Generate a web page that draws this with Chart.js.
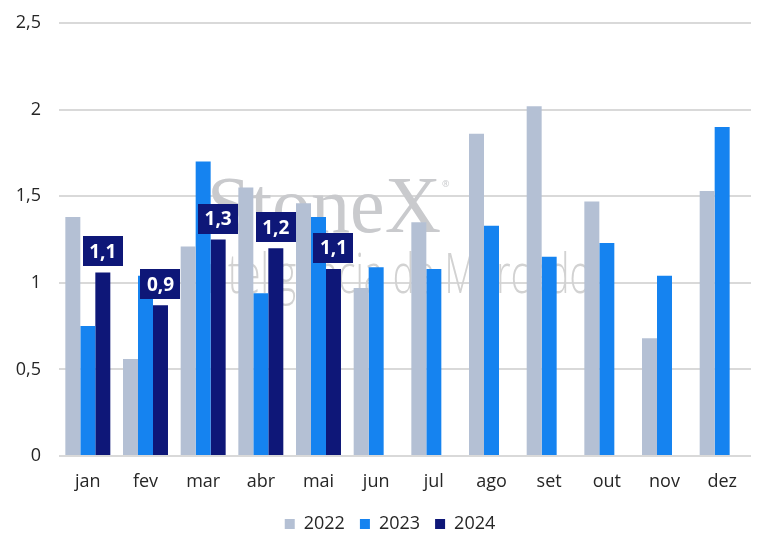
<!DOCTYPE html>
<html>
<head>
<meta charset="utf-8">
<script src="https://cdn.jsdelivr.net/npm/chart.js@4.4.1/dist/chart.umd.min.js"></script>
<style>
  html, body { margin: 0; padding: 0; background: #ffffff; }
  #wrap { width: 774px; height: 554px; position: relative; }
</style>
</head>
<body>
<div id="wrap"><canvas id="c"></canvas></div>
<script>
const months = ["jan", "fev", "mar", "abr", "mai", "jun", "jul", "ago", "set", "out", "nov", "dez"];
const series2022 = [1.38, 0.56, 1.21, 1.55, 1.46, 0.97, 1.35, 1.86, 2.02, 1.47, 0.68, 1.53];
const series2023 = [0.75, 1.04, 1.70, 0.94, 1.38, 1.09, 1.08, 1.33, 1.15, 1.23, 1.04, 1.90];
const series2024 = [1.06, 0.87, 1.25, 1.20, 1.08, null, null, null, null, null, null, null];
const seriesNames = ["2022", "2023", "2024"];
const yMin = 0, yMax = 2.5, yStep = 0.5;
const watermarkTitle = "StoneX";
const watermarkSub = "Inteligência de Mercado";

const FONT = "'Open Sans', 'Noto Sans', sans-serif";

const watermarkPlugin = {
  id: 'watermark',
  beforeDraw(chart) {
    // shift the legend box so it is centred on the whole canvas like the reference
    if (chart.legend) { chart.legend.left = 29; }
  },
  beforeDatasetsDraw(chart) {
    const ctx = chart.ctx;
    ctx.save();
    ctx.fillStyle = '#c9cacd';
    ctx.font = "80px 'Liberation Serif', 'DejaVu Serif', serif";
    ctx.textBaseline = 'alphabetic';
    ctx.textAlign = 'left';
    const w = ctx.measureText(watermarkTitle).width;
    ctx.save();
    ctx.translate(207, 232);
    ctx.scale(234 / w, 1);
    ctx.fillText(watermarkTitle, 0, 0);
    ctx.restore();
    ctx.font = "9px " + FONT;
    ctx.fillText("®", 442, 187);
    ctx.fillStyle = '#d2d2d2';
    ctx.font = "300 56px " + FONT;
    const w2 = ctx.measureText(watermarkSub).width;
    ctx.translate(197, 293);
    ctx.scale(394 / w2, 1);
    ctx.fillText(watermarkSub, 0, 0);
    ctx.restore();
  }
};

const labelPlugin = {
  id: 'boxLabels',
  afterDatasetsDraw(chart) {
    const ctx = chart.ctx;
    const meta = chart.getDatasetMeta(2);
    const data = chart.data.datasets[2].data;
    ctx.save();
    ctx.font = "bold 19px " + FONT;
    ctx.textAlign = 'center';
    ctx.textBaseline = 'middle';
    meta.data.forEach((el, i) => {
      const v = data[i];
      if (v === null || v === undefined) return;
      const bw = 40, bh = 30;
      const bottom = el.y - 6;
      const top = bottom - bh;
      ctx.fillStyle = '#0e1778';
      ctx.fillRect(Math.round(el.x - bw / 2), Math.round(top), bw, bh);
      ctx.fillStyle = '#ffffff';
      ctx.fillText(v.toFixed(1).replace('.', ','), el.x, top + bh / 2 + 1);
    });
    ctx.restore();
  }
};

new Chart(document.getElementById('c'), {
  type: 'bar',
  data: {
    labels: months,
    datasets: [
      { label: seriesNames[0], data: series2022, backgroundColor: '#b4c0d4', borderWidth: 0 },
      { label: seriesNames[1], data: series2023, backgroundColor: '#1583f0', borderWidth: 0 },
      { label: seriesNames[2], data: series2024, backgroundColor: '#0e1778', borderWidth: 0 }
    ]
  },
  options: {
    responsive: true,
    maintainAspectRatio: false,
    animation: false,
    devicePixelRatio: 1,
    layout: { padding: { left: 0, right: 23, top: 23, bottom: 11 } },
    datasets: { bar: { categoryPercentage: 0.78, barPercentage: 1.0 } },
    scales: {
      x: {
        grid: { display: false, drawTicks: false },
        border: { display: false },
        ticks: { color: '#262626', font: { family: FONT, size: 18 }, padding: 15, maxRotation: 0 },
        afterFit(scale) { scale.height = 44; }
      },
      y: {
        min: yMin, max: yMax,
        grid: { color: '#d9d9d9', lineWidth: 2, drawTicks: false },
        border: { display: false },
        ticks: {
          stepSize: yStep,
          color: '#262626',
          font: { family: FONT, size: 18 },
          padding: 18,
          callback: (v) => String(v).replace('.', ',')
        },
        afterFit(scale) { scale.width = 59; scale.paddingTop = 0; scale.paddingBottom = 0; }
      }
    },
    plugins: {
      legend: {
        position: 'bottom',
        labels: { boxWidth: 10, boxHeight: 10, padding: 15, color: '#262626', font: { family: FONT, size: 18 } }
      },
      tooltip: { enabled: false }
    }
  },
  plugins: [watermarkPlugin, labelPlugin]
});
</script>
</body>
</html>
